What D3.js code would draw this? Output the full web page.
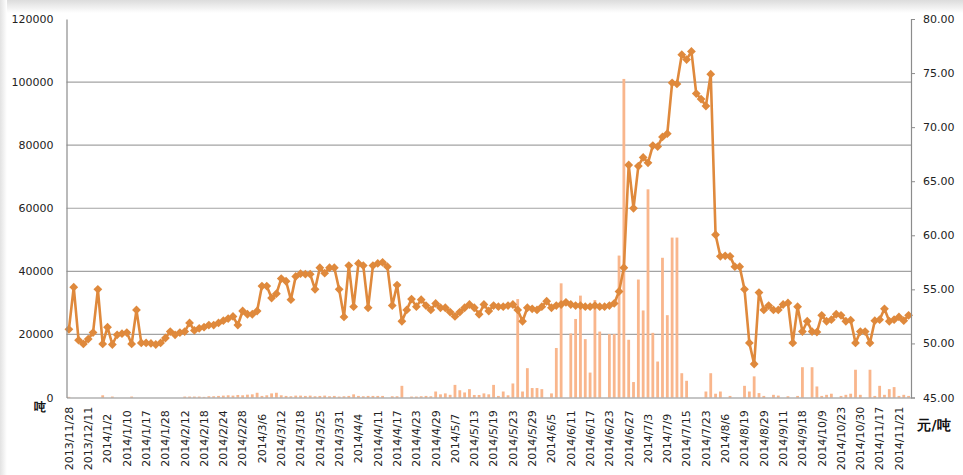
<!DOCTYPE html>
<html><head><meta charset="utf-8">
<script src="https://cdn.jsdelivr.net/npm/d3@7"></script>
<style>
html,body{margin:0;padding:0;background:#fff;}
svg{display:block;}
text{font-family:"DejaVu Sans",Verdana,sans-serif;}
</style></head>
<body>
<svg id="chart" width="963" height="475"></svg>
<script>
// ---- data ----
const tickLabels = ["2013/11/28","2013/12/11","2014/1/2","2014/1/10","2014/1/17","2014/1/28","2014/2/12","2014/2/18","2014/2/24","2014/2/28","2014/3/6","2014/3/12","2014/3/18","2014/3/25","2014/3/31","2014/4/4","2014/4/11","2014/4/17","2014/4/23","2014/4/29","2014/5/7","2014/5/13","2014/5/19","2014/5/23","2014/5/29","2014/6/5","2014/6/11","2014/6/17","2014/6/23","2014/6/27","2014/7/3","2014/7/9","2014/7/15","2014/7/23","2014/8/6","2014/8/19","2014/8/29","2014/9/11","2014/9/18","2014/10/9","2014/10/23","2014/10/30","2014/11/17","2014/11/21"];
const labelEvery = 4;

// price (元/吨), right axis
const price = [51.3,55.2,50.3,49.95,50.4,51.0,55.0,49.95,51.5,49.9,
50.8,50.9,51.0,49.95,53.1,50.05,50.05,50.0,49.9,50.05,
50.5,51.1,50.8,51.0,51.1,51.9,51.2,51.4,51.5,51.7,
51.7,51.9,52.1,52.3,52.5,51.7,53.0,52.7,52.7,53.0,
55.3,55.3,54.2,54.6,56.0,55.75,54.05,56.2,56.45,56.4,
56.4,55.0,57.0,56.5,57.0,57.0,55.0,52.45,57.2,53.4,
57.4,57.2,53.3,57.2,57.4,57.5,57.1,53.5,55.4,52.05,
53.1,54.1,53.4,54.05,53.5,53.1,53.7,53.3,53.3,52.9,
52.5,52.9,53.3,53.6,53.3,52.7,53.6,53.0,53.5,53.4,
53.4,53.5,53.6,53.1,52.05,53.3,53.2,53.1,53.4,53.9,
53.3,53.5,53.6,53.8,53.6,53.5,53.5,53.4,53.4,53.5,
53.4,53.4,53.5,53.7,54.8,57.0,66.5,62.5,66.4,67.2,
66.7,68.3,68.2,69.1,69.4,74.1,74.0,76.7,76.25,77.0,
73.1,72.6,71.95,74.9,60.05,58.05,58.1,58.05,57.1,57.1,
55.0,50.05,48.1,54.7,53.1,53.5,53.1,53.1,53.6,53.75,
50.05,53.4,51.1,52.05,51.1,51.05,52.6,52.05,52.2,52.7,
52.6,52.05,52.15,50.05,51.1,51.1,50.05,52.1,52.2,53.2,
52.05,52.2,52.45,52.1,52.6];

// volume (吨), left axis
const volume = [200,0,0,0,0,0,0,700,0,300,
0,0,0,300,0,0,0,0,0,0,
0,0,0,0,300,300,300,300,200,400,
400,500,600,700,600,800,700,900,1000,1500,
500,700,1300,1500,700,500,400,600,600,500,
600,400,500,600,400,500,300,400,500,1000,
500,400,500,500,500,500,0,400,400,3700,
0,300,300,400,500,400,1900,1000,1300,850,
4000,2300,1600,2650,800,800,1300,1000,4000,500,
1900,700,4450,31200,1900,9300,3000,3000,2650,0,
1300,15700,36200,0,20300,24900,32300,18500,7900,30900,
20900,0,20100,20100,45000,101000,18300,4900,37400,27600,
66000,20500,11400,44300,26100,50700,50700,7700,5300,0,
0,0,1900,7700,1200,1900,0,500,0,0,
3700,1900,6700,1400,500,0,850,600,0,400,
0,500,9600,0,9600,3500,500,850,1200,0,
500,850,1200,8800,850,0,8800,500,3700,850,
2650,3300,500,850,500];

const leftTicks = [0,20000,40000,60000,80000,100000,120000];
const rightTicks = [45,50,55,60,65,70,75,80];

// ---- layout ----
const svg = d3.select("#chart");
const W = 963, H = 475;
const L = 66.5, R = 911, T = 19, B = 397.5;

// background shading (screenshot frame)
const defs = svg.append("defs");
const gTop = defs.append("linearGradient").attr("id","gt").attr("x1",0).attr("y1",0).attr("x2",0).attr("y2",1);
gTop.append("stop").attr("offset","0%").attr("stop-color","#dcdcdc");
gTop.append("stop").attr("offset","100%").attr("stop-color","#ffffff");
const gLeft = defs.append("linearGradient").attr("id","gl").attr("x1",0).attr("y1",0).attr("x2",1).attr("y2",0);
gLeft.append("stop").attr("offset","0%").attr("stop-color","#e2e2e2");
gLeft.append("stop").attr("offset","100%").attr("stop-color","#ffffff");
svg.append("rect").attr("x",0).attr("y",0).attr("width",W).attr("height",H).attr("fill","#fff");
svg.append("rect").attr("x",0).attr("y",0).attr("width",W).attr("height",13).attr("fill","url(#gt)");
svg.append("rect").attr("x",0).attr("y",0).attr("width",7).attr("height",H).attr("fill","url(#gl)");

const idx = d3.range(price.length);
const x = d3.scaleBand().domain(idx).range([L, R]).padding(0);
const cx = i => x(i) + x.bandwidth()/2;
const yL = d3.scaleLinear().domain([0,120000]).range([B, T]);
const yR = d3.scaleLinear().domain([45,80]).range([B, T]);

// gridlines
svg.append("g").selectAll("line").data(leftTicks.filter(d => d>0 && d<120000)).join("line")
  .attr("x1", L).attr("x2", R).attr("y1", d => yL(d)).attr("y2", d => yL(d))
  .attr("stroke","#a3a3a3").attr("stroke-width",1.2);

// bars
const bw = 2.8;
svg.append("g").selectAll("rect").data(idx.filter(i => volume[i] > 0)).join("rect")
  .attr("x", i => cx(i) - bw/2).attr("width", bw)
  .attr("y", i => yL(volume[i])).attr("height", i => B - yL(volume[i]))
  .attr("fill","#f9b68c");

// line
const line = d3.line().x(i => cx(i)).y(i => yR(price[i]));
svg.append("path").datum(idx).attr("d", line)
  .attr("fill","none").attr("stroke","#df893c").attr("stroke-width",2.6).attr("stroke-linejoin","round");
const dm = 4.4;
svg.append("g").selectAll("path").data(idx).join("path")
  .attr("transform", i => `translate(${cx(i)},${yR(price[i])})`)
  .attr("d", `M0,${-dm}L${dm},0L0,${dm}L${-dm},0Z`)
  .attr("fill","#df893c");

// left axis
const axL = svg.append("g").attr("transform",`translate(${L},0)`)
  .call(d3.axisLeft(yL).tickValues(leftTicks).tickSize(0).tickPadding(13).tickFormat(d3.format("d")));
axL.select(".domain").attr("stroke","#8c8c8c").attr("stroke-width",1.2);
axL.selectAll("text").attr("font-size","11px").attr("fill","#222").attr("font-family","DejaVu Sans, sans-serif");

// right axis
const axR = svg.append("g").attr("transform",`translate(${R},0)`)
  .call(d3.axisRight(yR).tickValues(rightTicks).tickSize(4).tickPadding(8).tickFormat(d3.format(".2f")));
axR.select(".domain").attr("stroke","#8c8c8c").attr("stroke-width",1.2);
axR.selectAll(".tick line").attr("stroke","#8c8c8c");
axR.selectAll("text").attr("font-size","11px").attr("fill","#222").attr("font-family","DejaVu Sans, sans-serif");

// bottom axis
const tickIdx = tickLabels.map((d,k) => k*labelEvery);
const axB = svg.append("g").attr("transform",`translate(0,${B})`)
  .call(d3.axisBottom(x).tickValues(tickIdx).tickSize(0).tickFormat(i => tickLabels[i/labelEvery]));
axB.select(".domain").attr("stroke","#8c8c8c").attr("stroke-width",1.2);
axB.selectAll("text")
  .attr("font-size","11px").attr("fill","#222").attr("font-family","DejaVu Sans, sans-serif")
  .attr("text-anchor","middle")
  .attr("transform","translate(0,41) rotate(-90)")
  .attr("x",0).attr("y",0).attr("dy","0.35em");

// unit labels
svg.append("text").attr("x",40).attr("y",411).attr("text-anchor","middle")
  .attr("font-size","12px").attr("font-weight","bold").attr("fill","#111")
  .attr("font-family","Noto Sans CJK SC, sans-serif").text("吨");
svg.append("text").attr("x",934).attr("y",430).attr("text-anchor","middle")
  .attr("font-size","14px").attr("font-weight","bold").attr("fill","#111")
  .attr("font-family","Noto Sans CJK SC, sans-serif").text("元/吨");
</script>
</body></html>
